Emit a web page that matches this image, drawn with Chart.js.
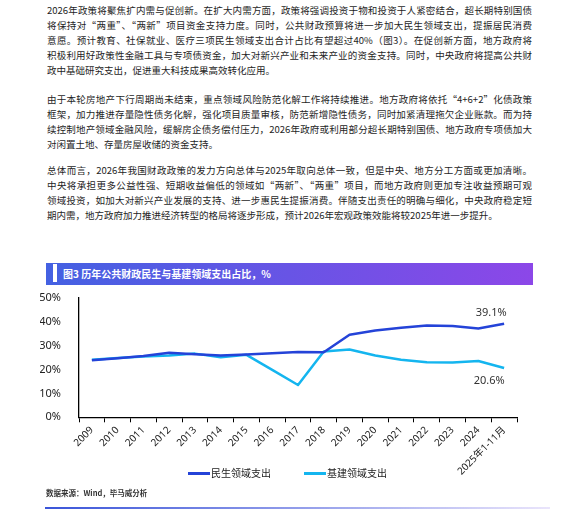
<!DOCTYPE html>
<html>
<head>
<meta charset="utf-8">
<script src="https://cdn.jsdelivr.net/npm/chart.js@4.4.1/dist/chart.umd.min.js"></script>
<style>
  body { margin:0; background:#fff; width:582px; height:524px; position:relative; overflow:hidden;
         font-family:'Noto Sans CJK SC', sans-serif; color:#1e1e1e; }
  .para { position:absolute; left:47px; width:485px; font-size:9.5px; }
  .ln { height:15px; line-height:15px; white-space:nowrap; }
  .j { text-align:justify; text-align-last:justify; white-space:normal; overflow:hidden; }
  #titlebar { position:absolute; left:46px; top:263px; width:487px; height:22px;
              background:linear-gradient(90deg,#4461e2,#8c47e8); }
  #titlebar .mark { position:absolute; left:7px; top:1px; width:4px; height:18px; background:#fff; }
  #titlebar .t { position:absolute; left:17px; top:0; line-height:22px; font-size:10px; font-weight:bold; color:#fff; }
  #chartBox { position:absolute; left:40px; top:281px; width:500px; height:200px; }
  .lg { position:absolute; top:466px; font-size:10px; line-height:14px; color:#222; }
  .sw { position:absolute; top:472px; width:22px; height:3px; }
  #source { position:absolute; left:46px; top:487px; font-size:7.5px; font-weight:bold; color:#333; }
  #rule { position:absolute; left:45px; top:507px; width:505px; height:1.5px;
          background:linear-gradient(90deg,#3a55d9,rgba(170,150,240,0.25)); }
</style>
</head>
<body>

<div class="para" style="top:3px">
  <div class="ln j">2026年政策将聚焦扩内需与促创新。在扩大内需方面，政策将强调投资于物和投资于人紧密结合，超长期特别国债</div>
  <div class="ln j">将保持对“两重”、“两新”项目资金支持力度。同时，公共财政预算将进一步加大民生领域支出，提振居民消费</div>
  <div class="ln j">意愿。预计教育、社保就业、医疗三项民生领域支出合计占比有望超过40%（图3）。在促创新方面，地方政府将</div>
  <div class="ln j">积极利用好政策性金融工具与专项债资金，加大对新兴产业和未来产业的资金支持。同时，中央政府将提高公共财</div>
  <div class="ln">政中基础研究支出，促进重大科技成果高效转化应用。</div>
</div>

<div class="para" style="top:92px">
  <div class="ln j">由于本轮房地产下行周期尚未结束，重点领域风险防范化解工作将持续推进。地方政府将依托“4+6+2”化债政策</div>
  <div class="ln j">框架，加力推进存量隐性债务化解，强化项目质量审核，防范新增隐性债务，同时加紧清理拖欠企业账款。而为持</div>
  <div class="ln j">续控制地产领域金融风险，缓解房企债务偿付压力，2026年政府或利用部分超长期特别国债、地方政府专项债加大</div>
  <div class="ln">对闲置土地、存量房屋收储的资金支持。</div>
</div>

<div class="para" style="top:163px">
  <div class="ln j">总体而言，2026年我国财政政策的发力方向总体与2025年取向总体一致，但是中央、地方分工方面或更加清晰。</div>
  <div class="ln j">中央将承担更多公益性强、短期收益偏低的领域如“两新”、“两重”项目，而地方政府则更加专注收益预期可观</div>
  <div class="ln j">领域投资，如加大对新兴产业发展的支持、进一步惠民生提振消费。伴随支出责任的明确与细化，中央政府稳定短</div>
  <div class="ln">期内需，地方政府加力推进经济转型的格局将逐步形成，预计2026年宏观政策效能将较2025年进一步提升。</div>
</div>

<div id="titlebar"><div class="mark"></div><div class="t">图3 历年公共财政民生与基建领域支出占比，%</div></div>

<div id="chartBox"><canvas id="c"></canvas></div>

<div class="sw" style="left:188px;background:#2443d8"></div>
<div class="lg" style="left:211px">民生领域支出</div>
<div class="sw" style="left:304px;background:#14b5ef"></div>
<div class="lg" style="left:327px">基建领域支出</div>

<div id="source">数据来源：Wind，毕马威分析</div>
<div id="rule"></div>

<script>
// 年份
var years = ['2009','2010','2011','2012','2013','2014','2015','2016','2017',
             '2018','2019','2020','2021','2022','2023','2024','2025年1-11月'];
// 民生领域支出占比 %
var livelihood = [23.8,24.7,25.6,27.0,26.3,25.8,26.2,26.8,27.3,
                  27.2,34.5,36.3,37.4,38.3,38.1,37.1,39.1];
// 基建领域支出占比 %
var infra      = [24.0,24.8,25.4,25.8,26.6,25.1,26.1,19.8,13.5,
                  27.5,28.3,25.8,24.0,23.0,22.9,23.5,20.6];
var yMin = 0, yMax = 50, yStep = 10;

var fontFam = "'Noto Sans', 'Noto Sans CJK SC', sans-serif";

// 末端数值标签
var endLabels = {
    id: 'endLabels',
    afterDatasetsDraw: function(chart) {
        var ctx = chart.ctx;
        ctx.save();
        ctx.font = '11px ' + fontFam;
        ctx.fillStyle = '#333';
        ctx.textAlign = 'center';
        ctx.textBaseline = 'middle';
        var m0 = chart.getDatasetMeta(0).data;
        var p0 = m0[m0.length - 1];
        ctx.fillText(livelihood[livelihood.length - 1].toFixed(1) + '%', p0.x - 13, p0.y - 11);
        var m1 = chart.getDatasetMeta(1).data;
        var p1 = m1[m1.length - 1];
        ctx.fillText(infra[infra.length - 1].toFixed(1) + '%', p1.x - 15, p1.y + 13);
        ctx.restore();
    }
};

var ctx = document.getElementById('c');
var chart = new Chart(ctx, {
    type: 'line',
    data: {
        labels: years,
        datasets: [
            {
                label: '民生领域支出',
                data: livelihood,
                borderColor: '#2443d8',
                borderWidth: 2.5,
                pointRadius: 0,
                tension: 0,
                fill: false,
                borderJoinStyle: 'round'
            },
            {
                label: '基建领域支出',
                data: infra,
                borderColor: '#14b5ef',
                borderWidth: 2.5,
                pointRadius: 0,
                tension: 0,
                fill: false,
                borderJoinStyle: 'round'
            }
        ]
    },
    options: {
        responsive: true,
        maintainAspectRatio: false,
        animation: false,
        layout: { padding: { top: 0, right: 23, left: 0, bottom: 0 } },
        plugins: {
            legend: { display: false },
            tooltip: { enabled: false }
        },
        scales: {
            x: {
                offset: true,
                grid: { display: true, drawOnChartArea: false, offset: true, tickLength: 5, color: '#000', lineWidth: 1 },
                border: { display: true, color: '#000', width: 1.3 },
                ticks: { autoSkip: false, minRotation: 45, maxRotation: 45, padding: 2,
                         color: '#222', font: { size: 10, family: fontFam } },
                afterFit: function(s) { s.height = 63.7; }
            },
            y: {
                min: yMin,
                max: yMax,
                grid: { display: false },
                border: { display: true, color: '#000', width: 1.3 },
                ticks: { stepSize: yStep, padding: 10, color: '#222',
                         font: { size: 11, family: fontFam },
                         callback: function(v) { return v + '%'; } },
                afterFit: function(s) { s.width = 39; }
            }
        }
    },
    plugins: [endLabels]
});
</script>
</body>
</html>
